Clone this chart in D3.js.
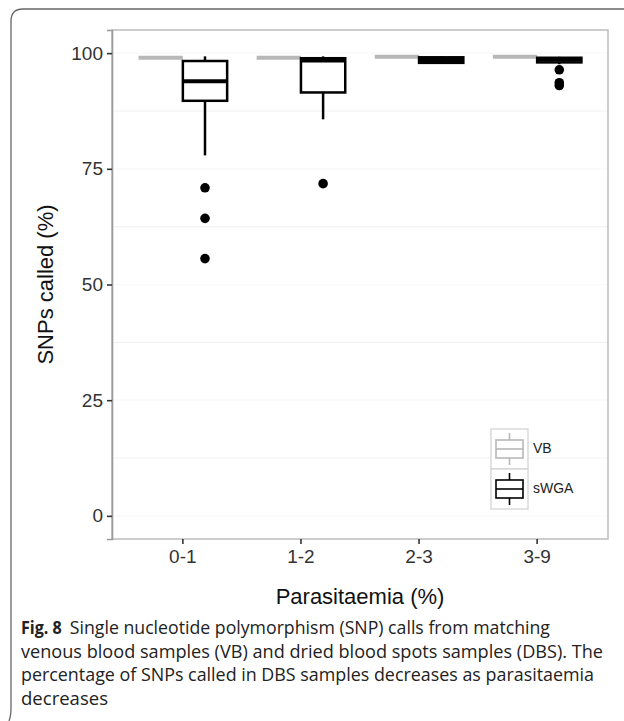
<!DOCTYPE html>
<html>
<head>
<meta charset="utf-8">
<script src="https://cdn.jsdelivr.net/npm/d3@7"></script>
<style>
  html, body { margin: 0; padding: 0; background: #fff; }
  svg { display: block; }
</style>
</head>
<body>
<svg id="chart" width="624" height="721"></svg>
<script>
// ---------- data ----------
const categories = ["0-1", "1-2", "2-3", "3-9"];
const series = ["VB", "sWGA"];
const yTicks = [0, 25, 50, 75, 100];
const yMinorTicks = [12.5, 37.5, 62.5, 87.5];

// VB (venous blood) box statistics per category: [lowerWhisker, q1, median, q3, upperWhisker]
const vbStats = [
  [99.0, 99.0, 99.0, 99.0, 99.0],
  [99.0, 99.0, 99.0, 99.0, 99.0],
  [99.2, 99.2, 99.2, 99.2, 99.2],
  [99.2, 99.2, 99.2, 99.2, 99.2]
];
const vbOutliers = [[], [], [], []];

// sWGA (dried blood spots) box statistics per category
const swgaStats = [
  [77.9, 89.7, 93.9, 98.3, 99.3],
  [85.7, 91.5, 98.4, 98.9, 99.3],
  [97.7, 97.9, 98.5, 99.1, 99.3],
  [97.6, 98.0, 98.6, 99.0, 99.2]
];
const swgaOutliers = [
  [70.9, 64.3, 55.6],
  [71.8],
  [],
  [96.4, 93.6, 93.0]
];

const captionBold = "Fig. 8";
const captionLines = [
  "Single nucleotide polymorphism (SNP) calls from matching",
  "venous blood samples (VB) and dried blood spots samples (DBS). The",
  "percentage of SNPs called in DBS samples decreases as parasitaemia",
  "decreases"
];

// ---------- layout ----------
const svg = d3.select("#chart");
const panel = { left: 112, right: 608, top: 30, bottom: 539 };
const sans = "'Liberation Sans', Arial, sans-serif";

const x = d3.scaleBand().domain(categories)
  .range([panel.left, panel.right]).paddingInner(0).paddingOuter(0.1);
const y = d3.scaleLinear().domain([-5, 105]).range([panel.bottom, panel.top]);
const dodge = d3.scaleBand().domain(series)
  .range([0, x.bandwidth() * 0.75]);
const dodgeOffset = (x.bandwidth() - x.bandwidth() * 0.75) / 2;

// outer figure frame
svg.append("path")
  .attr("d", "M9,721 Q11,716 11,708 L11,21 Q11,9 23,9 L624,9")
  .attr("fill", "none").attr("stroke", "#666").attr("stroke-width", 1.3);

// gridlines
const g = svg.append("g");
g.selectAll("line.minor").data(yMinorTicks).join("line")
  .attr("x1", panel.left).attr("x2", panel.right)
  .attr("y1", d => y(d)).attr("y2", d => y(d))
  .attr("stroke", "#f2f2f2").attr("stroke-width", 1.2);
g.selectAll("line.major").data(yTicks).join("line")
  .attr("x1", panel.left).attr("x2", panel.right)
  .attr("y1", d => y(d)).attr("y2", d => y(d))
  .attr("stroke", "#f8f8f8").attr("stroke-width", 1.2);

// panel border
svg.append("rect")
  .attr("x", panel.left).attr("y", panel.top)
  .attr("width", panel.right - panel.left).attr("height", panel.bottom - panel.top)
  .attr("fill", "none").attr("stroke", "#b8b8b8").attr("stroke-width", 1.4);

// axes
const yAxis = d3.axisLeft(y).tickValues(yTicks).tickSize(5).tickPadding(4).tickFormat(d3.format("d"));
const yg = svg.append("g").attr("transform", `translate(${panel.left},0)`).call(yAxis);
yg.select(".domain").attr("stroke", "#9a9a9a").attr("stroke-width", 1.6);
yg.selectAll(".tick line").attr("stroke", "#333").attr("stroke-width", 1.6);
yg.selectAll(".tick text").attr("fill", "#333")
  .style("font-family", sans).style("font-size", "19px");

const xAxis = d3.axisBottom(x).tickSize(5).tickPadding(6);
const xg = svg.append("g").attr("transform", `translate(0,${panel.bottom})`).call(xAxis);
xg.select(".domain").remove();
xg.selectAll(".tick line").attr("stroke", "#333").attr("stroke-width", 1.6);
xg.selectAll(".tick text").attr("fill", "#333")
  .style("font-family", sans).style("font-size", "19px");

// axis titles
svg.append("text")
  .attr("transform", `translate(47,${(panel.top + panel.bottom) / 2}) rotate(-90)`)
  .attr("text-anchor", "middle").attr("dominant-baseline", "middle")
  .style("font-family", sans).style("font-size", "22px")
  .attr("fill", "#111").text("SNPs called (%)");
svg.append("text")
  .attr("x", (panel.left + panel.right) / 2).attr("y", 604)
  .attr("text-anchor", "middle")
  .style("font-family", sans).style("font-size", "22px")
  .attr("fill", "#111").text("Parasitaemia (%)");

// ---------- boxplots ----------
function drawBoxes(stats, outliers, name, color, boxW, medW) {
  const grp = svg.append("g");
  stats.forEach((s, i) => {
    const x0 = x(categories[i]) + dodgeOffset + dodge(name);
    const w = dodge.bandwidth();
    const cx = x0 + w / 2;
    const [lo, q1, med, q3, hi] = s;
    grp.append("line").attr("x1", cx).attr("x2", cx).attr("y1", y(hi)).attr("y2", y(q3))
      .attr("stroke", color).attr("stroke-width", boxW);
    grp.append("line").attr("x1", cx).attr("x2", cx).attr("y1", y(q1)).attr("y2", y(lo))
      .attr("stroke", color).attr("stroke-width", boxW);
    grp.append("rect").attr("x", x0).attr("width", w)
      .attr("y", y(q3)).attr("height", Math.max(0, y(q1) - y(q3)))
      .attr("fill", "#fff").attr("stroke", color).attr("stroke-width", boxW);
    grp.append("line").attr("x1", x0).attr("x2", x0 + w).attr("y1", y(med)).attr("y2", y(med))
      .attr("stroke", color).attr("stroke-width", medW);
    grp.selectAll(null).data(outliers[i]).join("circle")
      .attr("cx", cx).attr("cy", d => y(d)).attr("r", 4.8).attr("fill", color);
  });
}
drawBoxes(vbStats, vbOutliers, "VB", "#b8b8b8", 2.5, 4);
drawBoxes(swgaStats, swgaOutliers, "sWGA", "#000", 2.5, 4);

// ---------- legend ----------
const lg = svg.append("g");
const keyX = 491, keyW = 37, keyH = 40, keyY0 = 429;
const legendColors = ["#b8b8b8", "#000"];
series.forEach((name, i) => {
  const color = legendColors[i];
  const ky = keyY0 + i * keyH;
  lg.append("rect").attr("x", keyX).attr("y", ky).attr("width", keyW).attr("height", keyH)
    .attr("fill", "#fff").attr("stroke", "#d0d0d0").attr("stroke-width", 1.2);
  const cx = keyX + keyW / 2;
  lg.append("line").attr("x1", cx).attr("x2", cx).attr("y1", ky + 4).attr("y2", ky + keyH - 4)
    .attr("stroke", color).attr("stroke-width", 1.6);
  lg.append("rect").attr("x", keyX + 5).attr("y", ky + 11).attr("width", keyW - 10).attr("height", 18)
    .attr("fill", "#fff").attr("stroke", color).attr("stroke-width", 1.6);
  lg.append("line").attr("x1", keyX + 5).attr("x2", keyX + keyW - 5)
    .attr("y1", ky + 20).attr("y2", ky + 20)
    .attr("stroke", color).attr("stroke-width", 1.6);
  lg.append("text").attr("x", keyX + keyW + 5).attr("y", ky + keyH / 2)
    .attr("dominant-baseline", "middle")
    .style("font-family", sans).style("font-size", "14px")
    .attr("fill", "#222").text(name);
});

// ---------- caption ----------
const capFont = "'Open Sans', 'Noto Sans', sans-serif";
const capSize = "17.5px";
const capX = 21, capY0 = 634, capStep = 23.6;
const capRight = [550, 603, 594, 108];
const cap = svg.append("g");
const boldT = cap.append("text").attr("x", capX).attr("y", capY0)
  .style("font-family", capFont).style("font-size", capSize).attr("font-weight", "bold")
  .attr("fill", "#222").text(captionBold);
const boldW = boldT.node().getComputedTextLength();
boldT.attr("textLength", boldW * 0.92).attr("lengthAdjust", "spacingAndGlyphs");
captionLines.forEach((ln, i) => {
  const sx = i === 0 ? capX + boldW * 0.92 + 8 : capX;
  cap.append("text").attr("x", sx).attr("y", capY0 + i * capStep)
    .style("font-family", capFont).style("font-size", capSize)
    .attr("fill", "#222")
    .attr("textLength", capRight[i] - sx).attr("lengthAdjust", "spacingAndGlyphs")
    .text(ln);
});
</script>
</body>
</html>
